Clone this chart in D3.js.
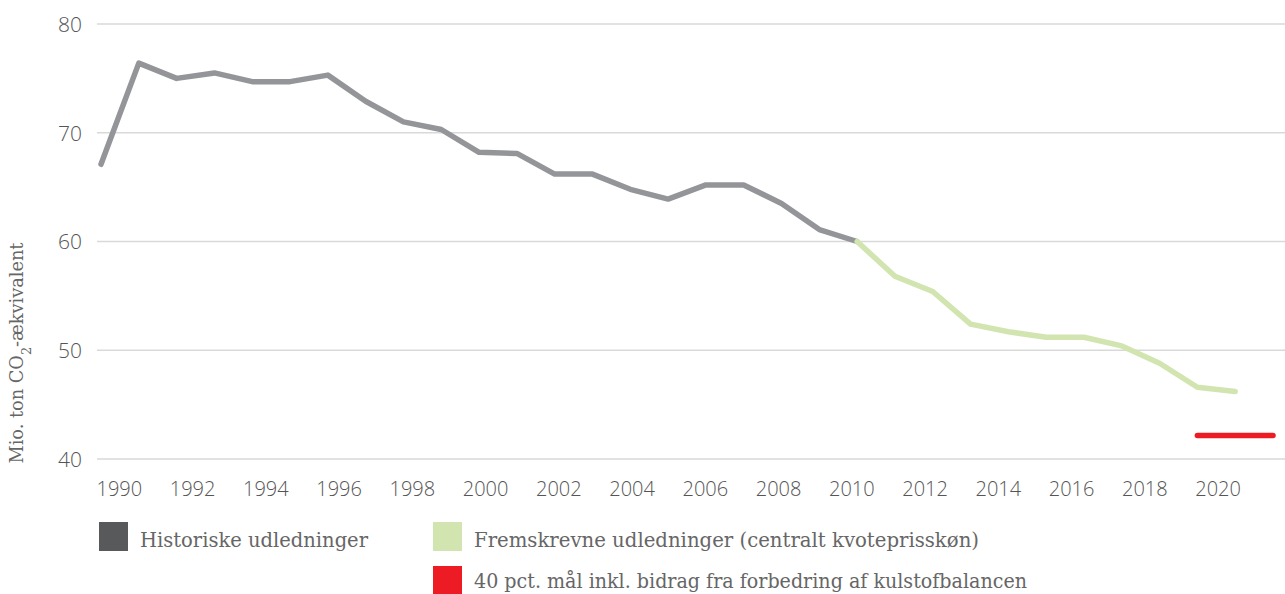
<!DOCTYPE html>
<html>
<head>
<meta charset="utf-8">
<script src="https://cdn.jsdelivr.net/npm/d3@7"></script>
<style>
  html, body { margin: 0; padding: 0; background: #fff; }
  svg { display: block; }
</style>
</head>
<body>
<svg id="chart" width="1285" height="594"></svg>
<script>
// ---- data ----
const years = d3.range(1990, 2022); // category axis 1990..2021
const tickLabels = ["1990","1992","1994","1996","1998","2000","2002","2004","2006","2008","2010","2012","2014","2016","2018","2020"];
const yTicks = [40, 50, 60, 70, 80];

const histYears = [1990,1991,1992,1993,1994,1995,1996,1997,1998,1999,2000,2001,2002,2003,2004,2005,2006,2007,2008,2009,2010];
const histValues = [67.1,76.4,75.0,75.5,74.7,74.7,75.3,72.9,71.0,70.3,68.2,68.1,66.2,66.2,64.8,63.9,65.2,65.2,63.5,61.1,60.0];

const projYears = [2010,2011,2012,2013,2014,2015,2016,2017,2018,2019,2020];
const projValues = [60.0,56.8,55.4,52.4,51.7,51.2,51.2,50.4,48.8,46.6,46.2];

const targetYears = [2019, 2020, 2021];
const targetValues = [42.15, 42.15, 42.15];

const legendLabels = [
  "Historiske udledninger",
  "Fremskrevne udledninger (centralt kvoteprisskøn)",
  "40 pct. mål inkl. bidrag fra forbedring af kulstofbalancen"
];
const colors = { hist: "#939598", histLegend: "#58595b", proj: "#d2e5b1", target: "#ed1c24" };

// ---- scales ----
const svg = d3.select("#chart");
const x = d3.scalePoint().domain(years).range([101, 1273]);
const xBand = d3.scaleBand().domain(years).range([101, 1273]);
const y = d3.scaleLinear().domain([40, 80]).range([459, 24]);

// gridlines
svg.append("g")
  .selectAll("line")
  .data(yTicks)
  .join("line")
  .attr("x1", 97).attr("x2", 1285)
  .attr("y1", d => y(d)).attr("y2", d => y(d))
  .attr("stroke", "#d9d9d9").attr("stroke-width", 1.5);

// y axis labels
const yAxis = d3.axisLeft(y).tickValues(yTicks).tickSize(0).tickPadding(0);
const gy = svg.append("g").attr("transform", "translate(82,0)").call(yAxis);
gy.select(".domain").remove();
gy.selectAll("text")
  .attr("font-family", "'Open Sans', sans-serif")
  .attr("font-weight", 300)
  .attr("font-size", 21)
  .attr("fill", "#555")
  .attr("dy", "0.35em");

// x axis labels (band centres, every 2nd year)
const xAxis = d3.axisBottom(xBand)
  .tickValues(years.filter(d => tickLabels.includes(String(d))))
  .tickSize(0).tickPadding(0);
const gx = svg.append("g").attr("transform", "translate(0,478)").call(xAxis);
gx.select(".domain").remove();
gx.selectAll("text")
  .attr("font-family", "'Open Sans', sans-serif")
  .attr("font-weight", 300)
  .attr("font-size", 20)
  .attr("fill", "#555")
  .attr("dy", "0.9em");

// lines
const line = d3.line().x(d => x(d[0])).y(d => y(d[1]));
function drawLine(xs, vs, color) {
  svg.append("path")
    .datum(xs.map((d, i) => [d, vs[i]]))
    .attr("d", line)
    .attr("fill", "none")
    .attr("stroke", color)
    .attr("stroke-width", 5.5)
    .attr("stroke-linejoin", "round")
    .attr("stroke-linecap", "round");
}
drawLine(histYears, histValues, colors.hist);
drawLine(projYears, projValues, colors.proj);
drawLine(targetYears, targetValues, colors.target);

// y axis title
const title = svg.append("text")
  .attr("transform", "translate(23,353) rotate(-90)")
  .attr("text-anchor", "middle")
  .attr("font-family", "'DejaVu Serif Condensed', 'DejaVu Serif', serif")
  .attr("font-size", 18)
  .attr("fill", "#666")
  .attr("textLength", 221)
  .attr("lengthAdjust", "spacingAndGlyphs");
title.append("tspan").text("Mio. ton CO");
title.append("tspan").attr("baseline-shift", "sub").attr("font-size", 13).text("2");
title.append("tspan").text("-ækvivalent");

// legend
const legendItems = [
  { label: legendLabels[0], color: colors.histLegend, x: 99, y: 522, w: 228, ty: 25 },
  { label: legendLabels[1], color: colors.proj, x: 433, y: 522, w: 505, ty: 25 },
  { label: legendLabels[2], color: colors.target, x: 433, y: 566, w: 553, ty: 22 }
];
const lg = svg.append("g");
const items = lg.selectAll("g").data(legendItems).join("g")
  .attr("transform", d => `translate(${d.x},${d.y})`);
items.append("rect").attr("width", 29).attr("height", 29).attr("fill", d => d.color);
items.append("text")
  .attr("x", 41).attr("y", d => d.ty)
  .attr("font-family", "'DejaVu Serif Condensed', 'DejaVu Serif', serif")
  .attr("font-size", 21)
  .attr("fill", "#666")
  .attr("textLength", d => d.w)
  .attr("lengthAdjust", "spacingAndGlyphs")
  .text(d => d.label);
</script>
</body>
</html>
